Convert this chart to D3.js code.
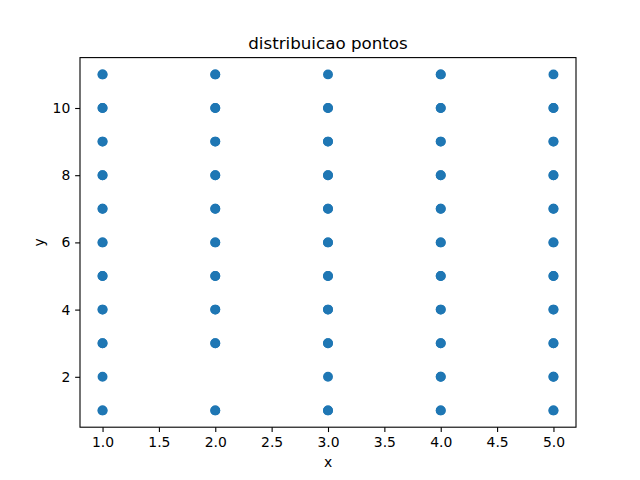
<!DOCTYPE html>
<html>
<head>
<meta charset="utf-8">
<script src="https://cdn.jsdelivr.net/npm/d3@7"></script>
<style>
  body { margin: 0; background: #fff; }
  text { font-family: "DejaVu Sans", sans-serif; }
</style>
</head>
<body>
<div id="chart"></div>
<script>
// y values found at each x column (repeated values = overlapping points)
const yAt1 = [1, 1, 2, 3, 3, 4, 4, 5, 5, 6, 6, 7, 7, 8, 8, 9, 9, 10, 10, 11, 11];
const yAt2 = [1, 1, 3, 3, 4, 4, 5, 5, 6, 6, 7, 7, 8, 8, 9, 9, 10, 10, 11, 11];
const yAt3 = [1, 1, 2, 3, 3, 4, 4, 5, 5, 6, 6, 7, 7, 8, 8, 9, 9, 10, 10, 11];
const yAt4 = [1, 1, 2, 2, 3, 3, 4, 4, 5, 5, 6, 6, 7, 7, 8, 8, 9, 9, 10, 10, 11, 11];
const yAt5 = [1, 1, 2, 2, 3, 3, 4, 4, 5, 5, 6, 6, 7, 7, 8, 8, 9, 9, 10, 10, 11];
const columns = [1, 2, 3, 4, 5];
const xTicks = [1.0, 1.5, 2.0, 2.5, 3.0, 3.5, 4.0, 4.5, 5.0];
const yTicks = [2, 4, 6, 8, 10];

let width = 640,
    height = 480,
    margin = ({ top: 57.6, right: 64, bottom: 52.8, left: 80 });

let data = [];
[yAt1, yAt2, yAt3, yAt4, yAt5].forEach((ys, i) => {
  for (let y of ys) data.push({ x: columns[i], y: y });
});

const svg = d3.select("#chart")
  .append("svg")
  .attr("width", width)
  .attr("height", height);

let x = d3.scaleLinear()
  .domain([0.8, 5.2])
  .range([margin.left, width - margin.right]);

let y = d3.scaleLinear()
  .domain([0.5, 11.5])
  .range([height - margin.bottom, margin.top]);

// points (face + edge of same colour, like matplotlib's scatter)
svg.append("g")
  .selectAll("circle")
  .data(data)
  .join("circle")
  .attr("cx", d => x(d.x))
  .attr("cy", d => y(d.y))
  .attr("r", 4.17)
  .attr("fill", "#1f77b4")
  .attr("stroke", "#1f77b4")
  .attr("stroke-width", 1.6);

// axes
let xAxis = svg.append("g")
  .attr("transform", `translate(0,${height - margin.bottom})`)
  .call(d3.axisBottom(x)
    .tickValues(xTicks)
    .tickFormat(d3.format(".1f"))
    .tickSizeInner(4.86)
    .tickSizeOuter(0)
    .tickPadding(4.86));

let yAxis = svg.append("g")
  .attr("transform", `translate(${margin.left},0)`)
  .call(d3.axisLeft(y)
    .tickValues(yTicks)
    .tickSizeInner(4.86)
    .tickSizeOuter(0)
    .tickPadding(4.86));

for (let g of [xAxis, yAxis]) {
  g.select(".domain").remove();
  g.selectAll(".tick line").attr("stroke", "#000").attr("stroke-width", 1.1);
  g.selectAll(".tick text")
    .attr("fill", "#000")
    .style("font-size", "13.9px")
    .style("font-family", "'DejaVu Sans', sans-serif");
}

// frame
svg.append("rect")
  .attr("x", margin.left)
  .attr("y", margin.top)
  .attr("width", width - margin.left - margin.right)
  .attr("height", height - margin.top - margin.bottom)
  .attr("fill", "none")
  .attr("stroke", "#000")
  .attr("stroke-width", 1.1);

// labels
svg.append("text")
  .attr("x", (margin.left + width - margin.right) / 2)
  .attr("y", 49.3)
  .attr("text-anchor", "middle")
  .style("font-size", "16.7px")
  .text("distribuicao pontos");

svg.append("text")
  .attr("x", (margin.left + width - margin.right) / 2)
  .attr("y", 467)
  .attr("text-anchor", "middle")
  .style("font-size", "13.9px")
  .text("x");

svg.append("text")
  .attr("transform", `translate(44,${(margin.top + height - margin.bottom) / 2}) rotate(-90)`)
  .attr("text-anchor", "middle")
  .style("font-size", "13.9px")
  .text("y");
</script>
</body>
</html>
